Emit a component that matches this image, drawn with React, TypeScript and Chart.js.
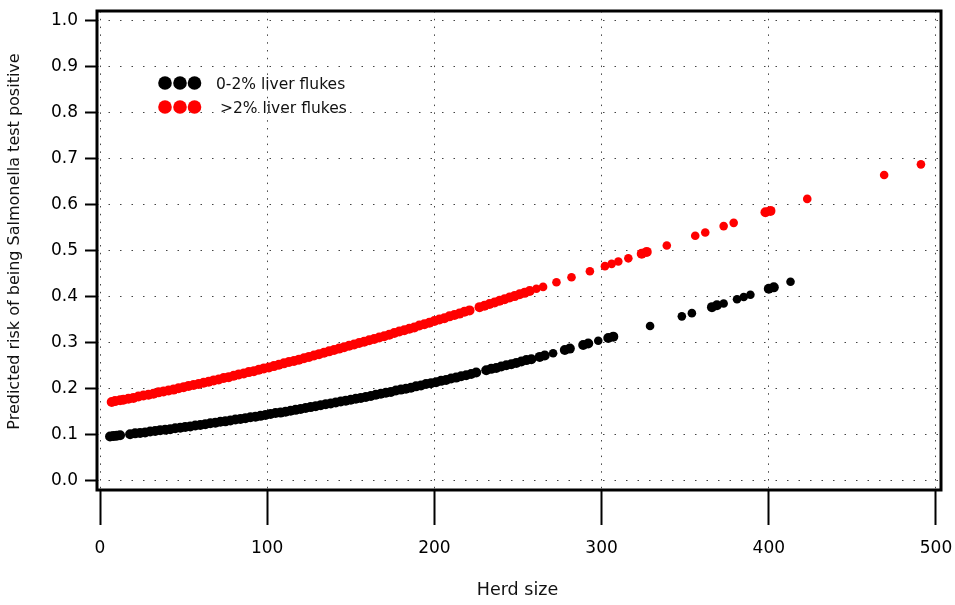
import React, { useEffect, useRef } from "react";
import { Chart, registerables } from "chart.js";

Chart.register(...registerables);

// ---------- data ----------
const seriesLabels = ["0-2% liver flukes", ">2% liver flukes"];
const seriesColors = ["#000000", "#ff0000"];
const xTitle = "Herd size";
const yTitle = "Predicted risk of being Salmonella test positive";
const xTickValues = [0, 100, 200, 300, 400, 500];
const yTickValues = [0, 0.1, 0.2, 0.3, 0.4, 0.5, 0.6, 0.7, 0.8, 0.9, 1.0];

// 0-2% liver flukes
const lowFlukeHerd = [
  6, 8, 10, 12,
  18, 21, 24, 27, 30, 33, 36, 39, 42, 45,
  48, 51, 54, 57, 60, 63, 66, 69, 72, 75,
  78, 81, 84, 87, 90, 93, 96, 99, 102, 105,
  108, 111, 114, 117, 120, 123, 126, 129, 132, 135,
  138, 141, 144, 147, 150, 153, 156, 159, 162, 165,
  168, 171, 174, 177, 180, 183, 186, 189, 192, 195,
  198, 201, 204, 207, 210, 213, 216, 219, 222, 225,
  231, 234, 237, 240, 243, 246, 249, 252, 255, 258,
  263, 266, 271, 278, 281, 289, 292, 298, 304, 307,
  329, 348, 354, 366, 369, 373, 381, 385, 389, 400,
  403, 413,
];
const lowFlukeRisk = [
  0.096, 0.097, 0.098, 0.099,
  0.101, 0.103, 0.104, 0.105, 0.107, 0.108, 0.110, 0.111, 0.112, 0.114,
  0.115, 0.117, 0.118, 0.120, 0.121, 0.123, 0.125, 0.126, 0.128, 0.129,
  0.131, 0.133, 0.134, 0.136, 0.138, 0.139, 0.141, 0.143, 0.145, 0.147,
  0.148, 0.150, 0.152, 0.154, 0.156, 0.158, 0.160, 0.162, 0.164, 0.166,
  0.168, 0.170, 0.172, 0.174, 0.176, 0.178, 0.180, 0.182, 0.184, 0.187,
  0.189, 0.191, 0.193, 0.196, 0.198, 0.200, 0.202, 0.205, 0.207, 0.210,
  0.212, 0.214, 0.217, 0.219, 0.222, 0.224, 0.227, 0.229, 0.232, 0.235,
  0.240, 0.243, 0.245, 0.248, 0.251, 0.253, 0.256, 0.259, 0.262, 0.264,
  0.269, 0.272, 0.277, 0.284, 0.287, 0.295, 0.298, 0.304, 0.310, 0.313,
  0.336, 0.357, 0.364, 0.377, 0.381, 0.385, 0.394, 0.399, 0.404, 0.417,
  0.420, 0.432,
];

// >2% liver flukes
const highFlukeHerd = [
  7, 9, 12, 14,
  17, 20, 23, 26, 29, 32, 35, 38, 41, 44,
  47, 50, 53, 56, 59, 62, 65, 68, 71, 74,
  77, 80, 83, 86, 89, 92, 95, 98, 101, 104,
  107, 110, 113, 116, 119, 122, 125, 128, 131, 134,
  137, 140, 143, 146, 149, 152, 155, 158, 161, 164,
  167, 170, 173, 176, 179, 182, 185, 188, 191, 194,
  197, 200, 203, 206, 209, 212, 215, 218, 221,
  227, 230, 233, 236, 239, 242, 245, 248, 251, 254, 257,
  261, 265, 273, 282, 293, 302, 306, 310, 316, 324,
  327, 339, 356, 362, 373, 379, 398, 401, 423, 469,
  491,
];
const highFlukeRisk = [
  0.171, 0.173, 0.175, 0.176,
  0.178, 0.180, 0.183, 0.185, 0.187, 0.189, 0.192, 0.194, 0.196, 0.198,
  0.201, 0.203, 0.206, 0.208, 0.210, 0.213, 0.215, 0.218, 0.220, 0.223,
  0.225, 0.228, 0.231, 0.233, 0.236, 0.238, 0.241, 0.244, 0.246, 0.249,
  0.252, 0.255, 0.258, 0.260, 0.263, 0.266, 0.269, 0.272, 0.275, 0.278,
  0.281, 0.284, 0.287, 0.290, 0.293, 0.296, 0.299, 0.302, 0.305, 0.308,
  0.311, 0.314, 0.317, 0.321, 0.324, 0.327, 0.330, 0.333, 0.337, 0.340,
  0.343, 0.347, 0.350, 0.353, 0.357, 0.360, 0.363, 0.367, 0.370,
  0.377, 0.380, 0.384, 0.387, 0.391, 0.394, 0.398, 0.401, 0.405, 0.408, 0.412,
  0.417, 0.421, 0.431, 0.442, 0.455, 0.466, 0.471, 0.476, 0.483, 0.493,
  0.497, 0.511, 0.532, 0.539, 0.553, 0.560, 0.583, 0.586, 0.612, 0.664,
  0.687,
];

const seriesHerd = [lowFlukeHerd, highFlukeHerd];
const seriesRisk = [lowFlukeRisk, highFlukeRisk];

const FONT = '"DejaVu Sans", Verdana, sans-serif';

// points that sit in a crowded run overlap into a thicker band
function radiusFor(herd: number[], k: number): number {
  const prev = k > 0 ? herd[k] - herd[k - 1] : Infinity;
  const next = k < herd.length - 1 ? herd[k + 1] - herd[k] : Infinity;
  return Math.min(prev, next) <= 3 ? 5 : 4.3;
}

// ---------- decorations: frame, legend, axis titles ----------
const decorations = {
  id: "decorations",
  afterDraw(chart: any) {
    const { ctx, chartArea: a } = chart;
    ctx.save();
    // frame
    ctx.strokeStyle = "#000";
    ctx.lineWidth = 3;
    ctx.strokeRect(a.left, a.top, a.right - a.left, a.bottom - a.top);

    // legend
    const rowY = [83, 107];
    const textX = [216, 220];
    chart.data.datasets.forEach((ds: any, i: number) => {
      ctx.fillStyle = ds.backgroundColor;
      [165, 180, 194.5].forEach((cx) => {
        ctx.beginPath();
        ctx.arc(cx, rowY[i], 6.8, 0, Math.PI * 2);
        ctx.fill();
      });
      ctx.fillStyle = "#111";
      ctx.font = `15.5px ${FONT}`;
      ctx.textAlign = "left";
      ctx.textBaseline = "middle";
      ctx.fillText(ds.label, textX[i], rowY[i] + 2);
    });

    // axis titles
    ctx.fillStyle = "#111";
    ctx.textAlign = "center";
    ctx.textBaseline = "middle";
    ctx.font = `17.5px ${FONT}`;
    ctx.fillText(xTitle, 517.5, 590);
    ctx.translate(14.5, 241.5);
    ctx.rotate(-Math.PI / 2);
    ctx.font = `16px ${FONT}`;
    ctx.fillText(yTitle, 0, 0);
    ctx.restore();
  },
};

export default function App() {
  const ref = useRef<HTMLCanvasElement | null>(null);

  useEffect(() => {
    if (!ref.current) return;
    const datasets = seriesLabels.map((label, i) => {
      const radii = seriesHerd[i].map((_, k) => radiusFor(seriesHerd[i], k));
      return {
        label,
        data: seriesHerd[i].map((x, k) => ({ x, y: seriesRisk[i][k] })),
        backgroundColor: seriesColors[i],
        borderColor: seriesColors[i],
        pointRadius: radii,
        pointHoverRadius: radii,
        pointBorderWidth: 0,
        showLine: false,
      };
    });

    const chart = new Chart(ref.current, {
      type: "scatter",
      data: { datasets },
      options: {
        responsive: true,
        maintainAspectRatio: false,
        animation: false,
        events: [],
        layout: { padding: { left: 0, top: 11, right: 14, bottom: 0 } },
        plugins: {
          legend: { display: false },
          tooltip: { enabled: false },
          title: { display: false },
        },
        scales: {
          x: {
            type: "linear",
            min: -1.8,
            max: 503,
            afterBuildTicks: (scale: any) => {
              scale.ticks = xTickValues.map((v) => ({ value: v }));
            },
            afterFit: (scale: any) => {
              scale.height = 115;
              scale.paddingLeft = 0;
              scale.paddingRight = 0;
            },
            ticks: {
              color: "#000",
              padding: 13,
              maxRotation: 0,
              autoSkip: false,
              font: { family: FONT, size: 17 },
              callback: (v: any) => String(v),
            },
            grid: {
              color: "#444",
              lineWidth: 1,
              drawTicks: true,
              tickLength: 35,
              tickWidth: 2,
              tickColor: "#000",
              tickBorderDash: [],
            },
            border: { display: false, dash: [1.5, 6.3] },
          },
          y: {
            type: "linear",
            min: -0.02,
            max: 1.02,
            afterBuildTicks: (scale: any) => {
              scale.ticks = yTickValues.map((v) => ({ value: v }));
            },
            afterFit: (scale: any) => {
              scale.width = 97;
              scale.paddingTop = 0;
              scale.paddingBottom = 0;
            },
            ticks: {
              color: "#000",
              padding: 7,
              autoSkip: false,
              font: { family: FONT, size: 17 },
              callback: (v: any) => Number(v).toFixed(1),
            },
            grid: {
              color: "#444",
              lineWidth: 1,
              drawTicks: true,
              tickLength: 12,
              tickWidth: 2,
              tickColor: "#000",
              tickBorderDash: [],
            },
            border: { display: false, dash: [1.5, 10] },
          },
        },
      },
      plugins: [decorations],
    });
    return () => chart.destroy();
  }, []);

  return (
    <div
      style={{
        position: "absolute",
        left: 0,
        top: 0,
        width: 955,
        height: 605,
        background: "#fff",
      }}
    >
      <canvas ref={ref} />
    </div>
  );
}
